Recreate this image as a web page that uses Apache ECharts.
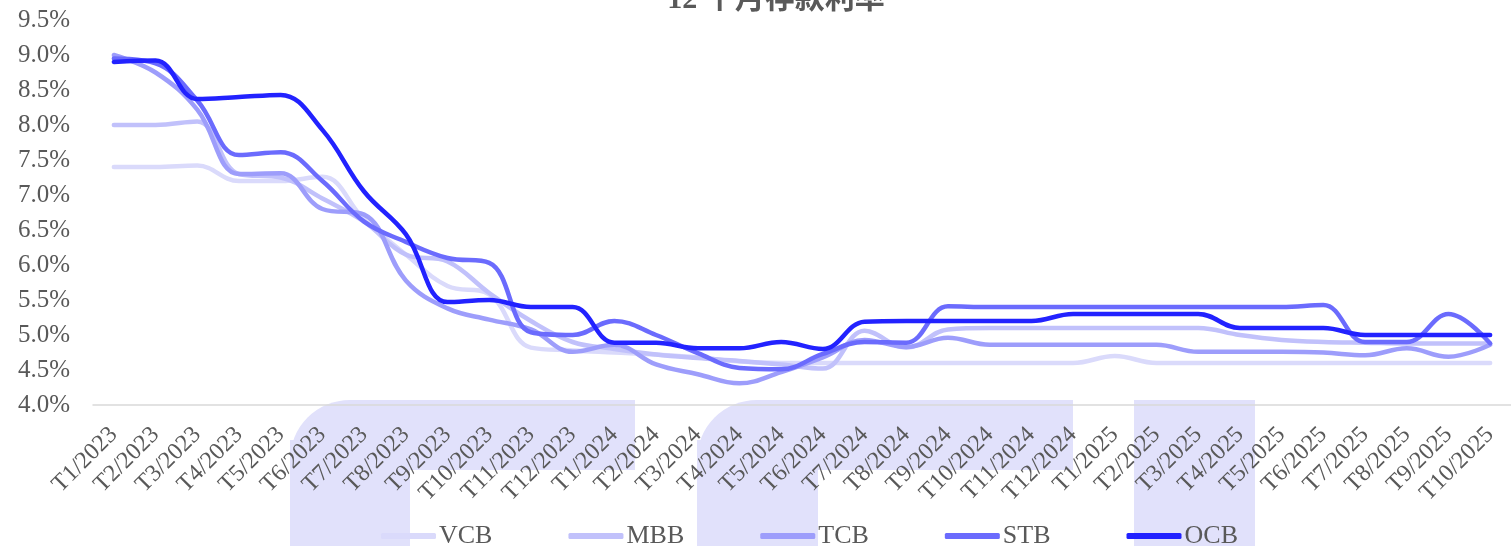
<!DOCTYPE html>
<html>
<head>
<meta charset="utf-8">
<script src="https://cdn.jsdelivr.net/npm/echarts@6/dist/echarts.min.js"></script>
<style>
  html, body { margin: 0; padding: 0; background: #fff; }
  #chart { width: 1511px; height: 546px; }
</style>
</head>
<body>
<div id="chart"></div>
<script>
// 月份
const months = [
  "T1/2023", "T2/2023", "T3/2023", "T4/2023", "T5/2023", "T6/2023", "T7/2023", "T8/2023", "T9/2023", "T10/2023", "T11/2023", "T12/2023",
  "T1/2024", "T2/2024", "T3/2024", "T4/2024", "T5/2024", "T6/2024", "T7/2024", "T8/2024", "T9/2024", "T10/2024", "T11/2024", "T12/2024",
  "T1/2025", "T2/2025", "T3/2025", "T4/2025", "T5/2025", "T6/2025", "T7/2025", "T8/2025", "T9/2025", "T10/2025"
];

const vcb = [7.40, 7.40, 7.42, 7.20, 7.20, 7.26, 6.65, 6.15, 5.70, 5.58, 4.82, 4.78,
  4.75, 4.72, 4.68, 4.62, 4.60, 4.60, 4.60, 4.60, 4.60, 4.60, 4.60, 4.60,
  4.70, 4.60, 4.60, 4.60, 4.60, 4.60, 4.60, 4.60, 4.60, 4.60];
const mbb = [8.00, 8.00, 8.05, 7.30, 7.25, 6.95, 6.62, 6.15, 6.05, 5.60, 5.20, 4.90,
  4.80, 4.72, 4.67, 4.63, 4.58, 4.52, 5.06, 4.82, 5.08, 5.10, 5.10, 5.10,
  5.10, 5.10, 5.10, 5.00, 4.93, 4.90, 4.89, 4.88, 4.88, 4.88];
const tcb = [9.00, 8.75, 8.22, 7.30, 7.31, 6.80, 6.72, 5.78, 5.38, 5.22, 5.08, 4.76,
  4.86, 4.58, 4.44, 4.31, 4.47, 4.68, 4.93, 4.83, 4.96, 4.86, 4.86, 4.86,
  4.86, 4.86, 4.76, 4.76, 4.76, 4.75, 4.71, 4.81, 4.69, 4.86];
const stb = [8.95, 8.88, 8.35, 7.57, 7.61, 7.20, 6.62, 6.33, 6.10, 6.03, 5.04, 5.00,
  5.20, 5.00, 4.74, 4.53, 4.51, 4.73, 4.90, 4.89, 5.41, 5.40, 5.40, 5.40,
  5.40, 5.40, 5.40, 5.40, 5.40, 5.43, 4.90, 4.90, 5.30, 4.88];
const ocb = [8.90, 8.92, 8.37, 8.40, 8.43, 7.93, 7.05, 6.44, 5.47, 5.50, 5.40, 5.40,
  4.89, 4.89, 4.81, 4.81, 4.90, 4.80, 5.19, 5.20, 5.20, 5.20, 5.20, 5.30,
  5.30, 5.30, 5.30, 5.10, 5.10, 5.10, 5.00, 5.00, 5.00, 5.00];

const seriesNames = ["VCB", "MBB", "TCB", "STB", "OCB"];
const seriesValues = [vcb, mbb, tcb, stb, ocb];
const colors = ["#dadafb", "#c1c1fb", "#9d9dfb", "#6b6bfd", "#2222ff"];

const textColor = "#595959";
const serif = "'Liberation Serif', 'Noto Sans CJK SC', serif";
const shade = "#e1e1fb";

const chart = echarts.init(document.getElementById("chart"));

const option = {
  color: colors,
  animation: false,
  title: {
    text: "12 个月存款利率",
    left: 771,
    textAlign: "center",
    top: -20,
    textStyle: { color: textColor, fontSize: 30, fontWeight: "bold", fontFamily: serif }
  },
  // 背景水印
  graphic: [
    { type: "rect", z: -10, silent: true, shape: { x: 290, y: 400, width: 345, height: 70, r: [60, 0, 0, 0] }, style: { fill: shade } },
    { type: "rect", z: -10, silent: true, shape: { x: 290, y: 440, width: 120, height: 106 }, style: { fill: shade } },
    { type: "rect", z: -10, silent: true, shape: { x: 697, y: 400, width: 376, height: 70, r: [60, 0, 0, 0] }, style: { fill: shade } },
    { type: "rect", z: -10, silent: true, shape: { x: 697, y: 440, width: 121, height: 106 }, style: { fill: shade } },
    { type: "rect", z: -10, silent: true, shape: { x: 1134, y: 400, width: 121, height: 146 }, style: { fill: shade } }
  ],
  legend: {
    left: 376,
    top: 518,
    icon: "roundRect",
    itemWidth: 55,
    itemHeight: 6,
    itemGap: 76,
    data: seriesNames,
    textStyle: { color: textColor, fontSize: 26, fontFamily: serif, padding: [0, 0, 0, -2] }
  },
  grid: {
    left: 93,
    right: -8,
    top: 20,
    bottom: 141,
    containLabel: false
  },
  xAxis: {
    type: "category",
    data: months,
    boundaryGap: true,
    axisLine: { lineStyle: { color: "#d9d9d9", width: 1.5 } },
    axisTick: { show: false },
    axisLabel: {
      interval: 0,
      rotate: 45,
      margin: 26,
      color: textColor,
      fontSize: 24,
      fontFamily: serif
    }
  },
  yAxis: {
    type: "value",
    min: 4,
    max: 9.5,
    interval: 0.5,
    axisLine: { show: false },
    axisTick: { show: false },
    splitLine: { show: false },
    axisLabel: {
      margin: 23,
      color: textColor,
      fontSize: 25,
      fontFamily: serif,
      formatter: v => v.toFixed(1) + "%"
    }
  },
  series: seriesNames.map((name, i) => ({
    name: name,
    type: "line",
    data: seriesValues[i],
    smooth: 0.4,
    symbol: "none",
    lineStyle: { width: 4.5, color: colors[i], cap: "round" }
  }))
};

chart.setOption(option);
</script>
</body>
</html>
